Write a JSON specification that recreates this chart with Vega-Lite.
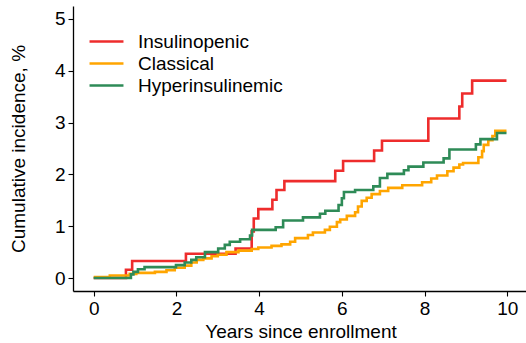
{
  "$schema": "https://vega.github.io/schema/vega-lite/v6.json",
  "autosize": {"type": "none"},
  "padding": {"left": 73, "top": 6, "right": 0, "bottom": 52},
  "width": 455,
  "height": 285,
  "background": "white",
  "config": {
    "view": {"stroke": null},
    "font": "Liberation Sans",
    "axis": {"grid": false, "domainColor": "black", "tickColor": "black", "labelColor": "black", "titleColor": "black", "labelFontSize": 19, "titleFontSize": 19, "titleFontWeight": "normal", "tickSize": 5, "labelPadding": 3, "domainWidth": 1.3, "tickWidth": 1.1}
  },
  "data": {"values": [
    {"g": "Insulinopenic", "x": 0, "y": 0},
    {"g": "Insulinopenic", "x": 0.78, "y": 0.16},
    {"g": "Insulinopenic", "x": 0.93, "y": 0.33},
    {"g": "Insulinopenic", "x": 2.23, "y": 0.47},
    {"g": "Insulinopenic", "x": 3.43, "y": 0.57},
    {"g": "Insulinopenic", "x": 3.82, "y": 0.9},
    {"g": "Insulinopenic", "x": 3.87, "y": 1.15},
    {"g": "Insulinopenic", "x": 3.98, "y": 1.33},
    {"g": "Insulinopenic", "x": 4.32, "y": 1.51},
    {"g": "Insulinopenic", "x": 4.42, "y": 1.7},
    {"g": "Insulinopenic", "x": 4.61, "y": 1.87},
    {"g": "Insulinopenic", "x": 5.84, "y": 2.07},
    {"g": "Insulinopenic", "x": 6.03, "y": 2.26},
    {"g": "Insulinopenic", "x": 6.78, "y": 2.46},
    {"g": "Insulinopenic", "x": 6.97, "y": 2.65},
    {"g": "Insulinopenic", "x": 8.09, "y": 3.08},
    {"g": "Insulinopenic", "x": 8.84, "y": 3.31},
    {"g": "Insulinopenic", "x": 8.91, "y": 3.56},
    {"g": "Insulinopenic", "x": 9.15, "y": 3.81},
    {"g": "Insulinopenic", "x": 9.98, "y": 3.81},
    {"g": "Classical", "x": 0, "y": 0.02},
    {"g": "Classical", "x": 0.39, "y": 0.05},
    {"g": "Classical", "x": 0.87, "y": 0.08},
    {"g": "Classical", "x": 1.03, "y": 0.1},
    {"g": "Classical", "x": 1.48, "y": 0.12},
    {"g": "Classical", "x": 1.76, "y": 0.15},
    {"g": "Classical", "x": 1.96, "y": 0.2},
    {"g": "Classical", "x": 2.2, "y": 0.24},
    {"g": "Classical", "x": 2.36, "y": 0.3},
    {"g": "Classical", "x": 2.49, "y": 0.35},
    {"g": "Classical", "x": 2.65, "y": 0.38},
    {"g": "Classical", "x": 2.85, "y": 0.42},
    {"g": "Classical", "x": 3.0, "y": 0.45},
    {"g": "Classical", "x": 3.21, "y": 0.5},
    {"g": "Classical", "x": 3.5, "y": 0.53},
    {"g": "Classical", "x": 3.82, "y": 0.56},
    {"g": "Classical", "x": 3.98, "y": 0.59},
    {"g": "Classical", "x": 4.3, "y": 0.62},
    {"g": "Classical", "x": 4.54, "y": 0.65},
    {"g": "Classical", "x": 4.75, "y": 0.7},
    {"g": "Classical", "x": 4.87, "y": 0.77},
    {"g": "Classical", "x": 5.18, "y": 0.83},
    {"g": "Classical", "x": 5.3, "y": 0.88},
    {"g": "Classical", "x": 5.59, "y": 0.93},
    {"g": "Classical", "x": 5.71, "y": 0.99},
    {"g": "Classical", "x": 5.88, "y": 1.08},
    {"g": "Classical", "x": 5.96, "y": 1.13},
    {"g": "Classical", "x": 6.12, "y": 1.2},
    {"g": "Classical", "x": 6.32, "y": 1.27},
    {"g": "Classical", "x": 6.39, "y": 1.38},
    {"g": "Classical", "x": 6.48, "y": 1.49},
    {"g": "Classical", "x": 6.6, "y": 1.55},
    {"g": "Classical", "x": 6.72, "y": 1.62},
    {"g": "Classical", "x": 6.92, "y": 1.68},
    {"g": "Classical", "x": 7.12, "y": 1.74},
    {"g": "Classical", "x": 7.46, "y": 1.79},
    {"g": "Classical", "x": 7.94, "y": 1.85},
    {"g": "Classical", "x": 8.16, "y": 1.92},
    {"g": "Classical", "x": 8.3, "y": 1.98},
    {"g": "Classical", "x": 8.55, "y": 2.06},
    {"g": "Classical", "x": 8.7, "y": 2.13},
    {"g": "Classical", "x": 8.84, "y": 2.19},
    {"g": "Classical", "x": 8.93, "y": 2.22},
    {"g": "Classical", "x": 9.3, "y": 2.33},
    {"g": "Classical", "x": 9.39, "y": 2.45},
    {"g": "Classical", "x": 9.43, "y": 2.57},
    {"g": "Classical", "x": 9.54, "y": 2.66},
    {"g": "Classical", "x": 9.64, "y": 2.74},
    {"g": "Classical", "x": 9.71, "y": 2.84},
    {"g": "Classical", "x": 9.98, "y": 2.84},
    {"g": "Hyperinsulinemic", "x": 0, "y": 0},
    {"g": "Hyperinsulinemic", "x": 0.9, "y": 0.07},
    {"g": "Hyperinsulinemic", "x": 0.96, "y": 0.12},
    {"g": "Hyperinsulinemic", "x": 1.07, "y": 0.17},
    {"g": "Hyperinsulinemic", "x": 1.23, "y": 0.21},
    {"g": "Hyperinsulinemic", "x": 1.99, "y": 0.25},
    {"g": "Hyperinsulinemic", "x": 2.2, "y": 0.3},
    {"g": "Hyperinsulinemic", "x": 2.36, "y": 0.35},
    {"g": "Hyperinsulinemic", "x": 2.48, "y": 0.4},
    {"g": "Hyperinsulinemic", "x": 2.69, "y": 0.5},
    {"g": "Hyperinsulinemic", "x": 3.01, "y": 0.57},
    {"g": "Hyperinsulinemic", "x": 3.17, "y": 0.64},
    {"g": "Hyperinsulinemic", "x": 3.29, "y": 0.7},
    {"g": "Hyperinsulinemic", "x": 3.54, "y": 0.75},
    {"g": "Hyperinsulinemic", "x": 3.78, "y": 0.82},
    {"g": "Hyperinsulinemic", "x": 3.83, "y": 0.93},
    {"g": "Hyperinsulinemic", "x": 4.4, "y": 0.98},
    {"g": "Hyperinsulinemic", "x": 4.58, "y": 1.11},
    {"g": "Hyperinsulinemic", "x": 5.06, "y": 1.17},
    {"g": "Hyperinsulinemic", "x": 5.47, "y": 1.24},
    {"g": "Hyperinsulinemic", "x": 5.6, "y": 1.3},
    {"g": "Hyperinsulinemic", "x": 5.92, "y": 1.41},
    {"g": "Hyperinsulinemic", "x": 6.0, "y": 1.54},
    {"g": "Hyperinsulinemic", "x": 6.05, "y": 1.66},
    {"g": "Hyperinsulinemic", "x": 6.32, "y": 1.7},
    {"g": "Hyperinsulinemic", "x": 6.76, "y": 1.77},
    {"g": "Hyperinsulinemic", "x": 6.92, "y": 1.93},
    {"g": "Hyperinsulinemic", "x": 7.1, "y": 2.01},
    {"g": "Hyperinsulinemic", "x": 7.5, "y": 2.08},
    {"g": "Hyperinsulinemic", "x": 7.61, "y": 2.15},
    {"g": "Hyperinsulinemic", "x": 7.97, "y": 2.23},
    {"g": "Hyperinsulinemic", "x": 8.46, "y": 2.31},
    {"g": "Hyperinsulinemic", "x": 8.6, "y": 2.48},
    {"g": "Hyperinsulinemic", "x": 9.24, "y": 2.58},
    {"g": "Hyperinsulinemic", "x": 9.35, "y": 2.68},
    {"g": "Hyperinsulinemic", "x": 9.75, "y": 2.8},
    {"g": "Hyperinsulinemic", "x": 9.98, "y": 2.8}
  ]},
  "mark": {"type": "line", "interpolate": "step-after", "strokeWidth": 2.6},
  "encoding": {
    "x": {"field": "x", "type": "quantitative", "scale": {"domain": [-0.5, 10.5], "nice": false, "zero": false}, "axis": {"values": [0, 2, 4, 6, 8, 10], "title": "Years since enrollment", "titlePadding": 4}},
    "y": {"field": "y", "type": "quantitative", "scale": {"domain": [-0.25, 5.25], "nice": false, "zero": false}, "axis": {"values": [0, 1, 2, 3, 4, 5], "title": "Cumulative incidence, %", "titlePadding": 26}},
    "color": {"field": "g", "type": "nominal", "sort": ["Insulinopenic", "Classical", "Hyperinsulinemic"],
      "scale": {"domain": ["Insulinopenic", "Classical", "Hyperinsulinemic"], "range": ["#EE2C2C", "#FFA500", "#2E8B57"]},
      "legend": {"title": null, "orient": "none", "legendX": 24, "legendY": 26, "padding": 0, "symbolType": "M-3,0H3", "symbolSize": 128, "symbolStrokeWidth": 2.6, "symbolFillColor": "transparent", "labelFontSize": 19, "labelColor": "black", "labelOffset": 22, "rowPadding": 2}
    }
  }
}
